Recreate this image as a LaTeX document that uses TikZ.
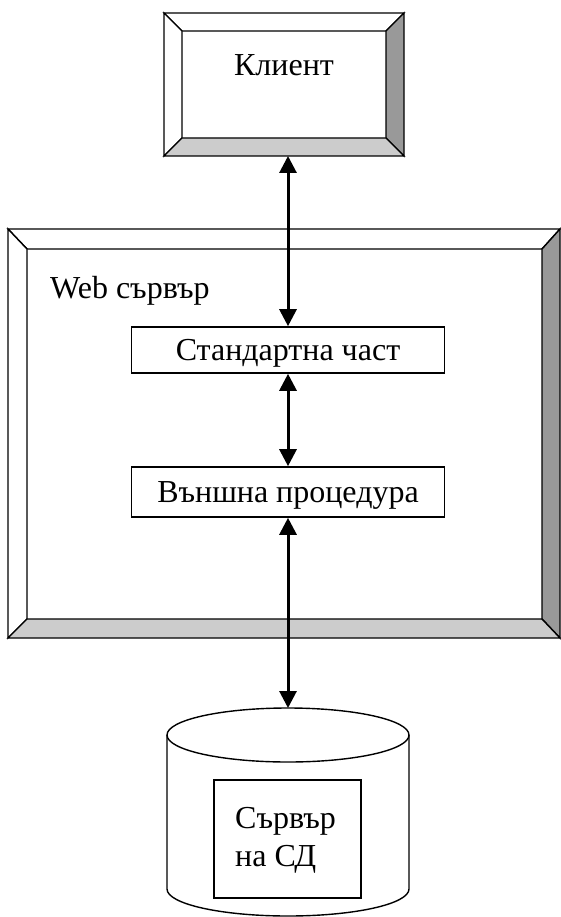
\documentclass[tikz,border=0pt]{standalone}
\usepackage{fontspec}
\setmainfont{Liberation Serif}
\usetikzlibrary{arrows.meta}

\begin{document}
\begin{tikzpicture}[x=1pt, y=-1pt, line join=miter]
\tikzset{
  edge/.style={draw=black, line width=1.4pt},
  lightface/.style={edge, fill=white},
  darkface/.style={edge, fill=black!40},
  shadeface/.style={edge, fill=black!20},
  lab/.style={font=\fontsize{32}{38}\selectfont, inner sep=0pt},
  procbox/.style={draw, line width=1.6pt, fill=white, lab,
    minimum width=313pt, text height=21pt, text depth=0pt},
  biarrow/.style={line width=3pt,
    {Triangle[length=17pt,width=17pt]}-{Triangle[length=17pt,width=17pt]}},
}
\useasboundingbox (0,0) rectangle (561,917);

% Client: bevelled frame
\fill[white] (182,31) rectangle (386,138);
\path[lightface] (164,13) -- (404,13) -- (386,31) -- (182,31) -- cycle;
\path[lightface] (164,13) -- (182,31) -- (182,138) -- (164,156) -- cycle;
\path[darkface] (404,13) -- (404,156) -- (386,138) -- (386,31) -- cycle;
\path[shadeface] (164,156) -- (404,156) -- (386,138) -- (182,138) -- cycle;
\node[lab, anchor=base] (client) at (284,76) {Клиент};
\coordinate (clientbot) at (288,156);

% Web server: bevelled frame
\path[lightface] (8,229) -- (560,229) -- (542,249) -- (27,249) -- cycle;
\path[lightface] (8,229) -- (27,249) -- (27,619) -- (8,638) -- cycle;
\path[darkface] (560,229) -- (560,638) -- (542,619) -- (542,249) -- cycle;
\path[shadeface] (8,638) -- (560,638) -- (542,619) -- (27,619) -- cycle;
\node[lab, anchor=base west] (web) at (50,298) {Web сървър};

% Inner processing boxes
\node[procbox, minimum height=46pt] (std) at (288,350) {Стандартна част};
\node[procbox, minimum height=50pt] (ext) at (288,492) {Външна процедура};

% Database cylinder
\draw[line width=1.4pt, fill=white] (167,735) -- (167,889)
  arc[start angle=180, end angle=360, x radius=121pt, y radius=27pt] -- (409,735);
\draw[line width=1.4pt, fill=white] (288,735) ellipse [x radius=121pt, y radius=27pt];
\coordinate (dbtop) at (288,708);
\node[draw, line width=1.4pt, minimum width=147pt, minimum height=118pt] (db) at (287.5,839) {};
\node[lab, align=left, anchor=base west] (dbtext) at (235,866) {Сървър\\на СД};

% Connectors
\draw[biarrow] (clientbot) -- (std.north);
\draw[biarrow] (std.south) -- (ext.north);
\draw[biarrow] (ext.south) -- (dbtop);
\end{tikzpicture}
\end{document}
